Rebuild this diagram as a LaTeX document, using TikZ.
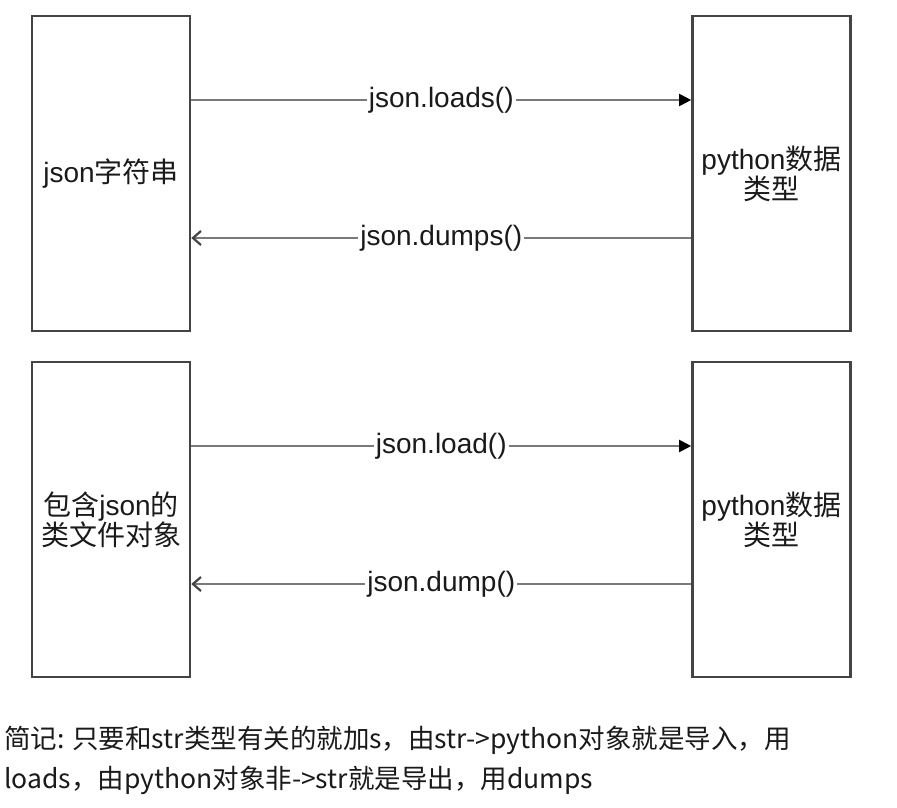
\documentclass[tikz,border=0pt]{standalone}
\usepackage{fontspec}
\setmainfont{Liberation Sans}
\newfontfamily\cjk{Noto Sans CJK SC}
\usetikzlibrary{arrows.meta}
\definecolor{boxline}{HTML}{444444}
\definecolor{arrline}{HTML}{7A7A7A}
\definecolor{txt}{HTML}{1A1A1A}
\tikzset{
  x=1pt, y=-1pt,
  blk/.style={draw=boxline, line width=2.6pt, minimum width=158pt, minimum height=315pt,
    inner sep=0pt, align=center, text=txt, font=\fontsize{28}{30}\selectfont},
  fwd/.style={draw=arrline, line width=2pt, -{Triangle[length=12pt,width=12pt,color=black]}},
  bwd/.style={draw=arrline, line width=2pt, {Straight Barb[length=8pt,width=14pt,color=boxline,line width=2.2pt]}-},
  lbl/.style={fill=white, inner sep=2pt, text=txt, font=\fontsize{28}{30}\selectfont},
  notetxt/.style={anchor=base west, inner sep=0pt, text=txt, font=\cjk\fontsize{26.5}{30}\selectfont}
}
\begin{document}
\begin{tikzpicture}
\useasboundingbox[fill=white] (0,0) rectangle (897,808);
\node[blk] (js) at (111,173.5) {json{\cjk 字符串}};
\node[blk] (py1) at (771.5,173.5) {python{\cjk 数据}\\{\cjk 类型}};
\node[blk] (fo) at (111,519.5) {{\cjk 包含}json{\cjk 的}\\{\cjk 类文件对象}};
\node[blk] (py2) at (771.5,519.5) {python{\cjk 数据}\\{\cjk 类型}};
\coordinate (y1) at (0,100);
\coordinate (y2) at (0,238);
\coordinate (y3) at (0,446);
\coordinate (y4) at (0,584);
\draw[fwd] (js.east |- y1) -- node[lbl] {json.loads()} (py1.west |- y1);
\draw[bwd] (js.east |- y2) -- node[lbl] {json.dumps()} (py1.west |- y2);
\draw[fwd] (fo.east |- y3) -- node[lbl] {json.load()} (py2.west |- y3);
\draw[bwd] (fo.east |- y4) -- node[lbl] {json.dump()} (py2.west |- y4);
\node[notetxt] (n1) at (4,748) {简记: 只要和str类型有关的就加s，由str->python对象就是导入，用};
\node[notetxt] (n2) at (4,788) {loads，由python对象非->str就是导出，用dumps};
\end{tikzpicture}
\end{document}
